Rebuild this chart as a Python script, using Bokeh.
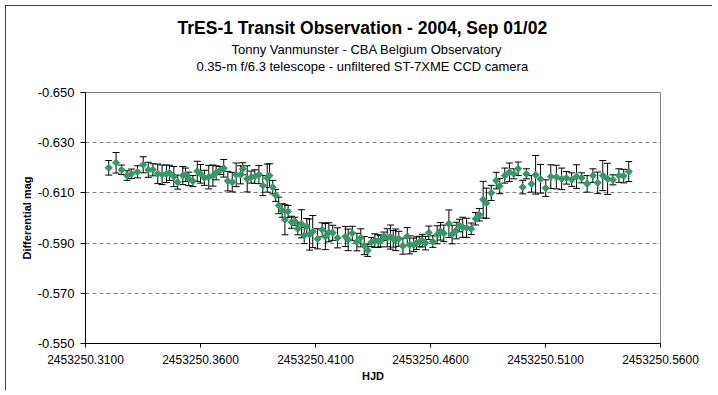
from bokeh.plotting import figure
from bokeh.models import (Range1d, FixedTicker, PrintfTickFormatter, Whisker,
                          TeeHead, ColumnDataSource, Title)
from bokeh.embed import file_html
from bokeh.resources import INLINE
import math

FONT = "Liberation Sans"

title_lines = [
    "TrES-1 Transit Observation - 2004, Sep 01/02",
    "Tonny Vanmunster - CBA Belgium Observatory",
    "0.35-m f/6.3 telescope - unfiltered ST-7XME CCD camera",
]
x_label = "HJD"
y_label = "Differential mag"

HJD_BASE = 2453250.0
x_ticks = [2453250.31, 2453250.36, 2453250.41, 2453250.46, 2453250.51, 2453250.56]
y_ticks = [-0.650, -0.630, -0.610, -0.590, -0.570, -0.550]

# before / ingress / bottom of transit
hjd_frac_a = [0.3201, 0.3233, 0.3257, 0.3281, 0.3300, 0.3326, 0.3351, 0.3373, 0.3393, 0.3414,
              0.3433, 0.3452, 0.3465, 0.3484, 0.3501, 0.3523, 0.3535, 0.3549, 0.3567, 0.3586,
              0.3600, 0.3617, 0.3636, 0.3654, 0.3668, 0.3684, 0.3701, 0.3719, 0.3738, 0.3755,
              0.3774, 0.3784, 0.3803, 0.3820, 0.3836, 0.3854, 0.3871, 0.3890, 0.3900, 0.3914,
              0.3927, 0.3940, 0.3955, 0.3967, 0.3981, 0.3996, 0.4010, 0.4023, 0.4039, 0.4051,
              0.4062, 0.4074, 0.4088, 0.4109, 0.4129, 0.4143, 0.4158, 0.4175, 0.4196, 0.4230,
              0.4242, 0.4260, 0.4280, 0.4297, 0.4312]
mag_a = [-0.6200, -0.6220, -0.6192, -0.6169, -0.6176, -0.6184, -0.6212, -0.6192, -0.6192, -0.6176,
         -0.6172, -0.6176, -0.6180, -0.6165, -0.6143, -0.6169, -0.6172, -0.6156, -0.6147, -0.6186,
         -0.6176, -0.6160, -0.6163, -0.6169, -0.6180, -0.6189, -0.6198, -0.6147, -0.6143, -0.6172,
         -0.6172, -0.6196, -0.6156, -0.6163, -0.6165, -0.6173, -0.6129, -0.6159, -0.6169, -0.6123,
         -0.6090, -0.6050, -0.6030, -0.5993, -0.6026, -0.5983, -0.5987, -0.5957, -0.5977, -0.5930,
         -0.5966, -0.5934, -0.5946, -0.5917, -0.5953, -0.5926, -0.5943, -0.5941, -0.5921, -0.5926,
         -0.5913, -0.5939, -0.5904, -0.5921, -0.5890]
err_a = [0.0029, 0.0041, 0.0019, 0.0019, 0.0019, 0.0024, 0.0032, 0.0030, 0.0024, 0.0039,
         0.0039, 0.0035, 0.0030, 0.0040, 0.0028, 0.0036, 0.0027, 0.0027, 0.0022, 0.0040,
         0.0037, 0.0030, 0.0047, 0.0042, 0.0028, 0.0016, 0.0035, 0.0039, 0.0039, 0.0047,
         0.0036, 0.0024, 0.0052, 0.0024, 0.0027, 0.0036, 0.0040, 0.0056, 0.0047, 0.0027,
         0.0024, 0.0033, 0.0027, 0.0060, 0.0024, 0.0024, 0.0016, 0.0024, 0.0056, 0.0032,
         0.0032, 0.0062, 0.0064, 0.0040, 0.0028, 0.0052, 0.0038, 0.0030, 0.0040, 0.0040,
         0.0043, 0.0028, 0.0035, 0.0036, 0.0036]

# bottom / egress / after transit
hjd_frac_b = [0.4327, 0.4343, 0.4358, 0.4373, 0.4383, 0.4397, 0.4412, 0.4426, 0.4438, 0.4449,
              0.4462, 0.4480, 0.4499, 0.4510, 0.4527, 0.4539, 0.4553, 0.4564, 0.4578, 0.4593,
              0.4610, 0.4629, 0.4643, 0.4658, 0.4680, 0.4694, 0.4712, 0.4726, 0.4740, 0.4757,
              0.4777, 0.4796, 0.4812, 0.4829, 0.4843, 0.4864, 0.4886, 0.4901, 0.4923, 0.4943,
              0.4962, 0.4981, 0.5001, 0.5017, 0.5039, 0.5057, 0.5078, 0.5101, 0.5123, 0.5147,
              0.5170, 0.5191, 0.5214, 0.5235, 0.5257, 0.5281, 0.5306, 0.5327, 0.5349, 0.5370,
              0.5393, 0.5419, 0.5440, 0.5462]
mag_b = [-0.5871, -0.5904, -0.5910, -0.5908, -0.5908, -0.5927, -0.5921, -0.5924, -0.5917, -0.5913,
         -0.5917, -0.5888, -0.5927, -0.5893, -0.5893, -0.5900, -0.5906, -0.5910, -0.5900, -0.5941,
         -0.5906, -0.5933, -0.5947, -0.5939, -0.5977, -0.5934, -0.5950, -0.5970, -0.5963, -0.5961,
         -0.5957, -0.5997, -0.6013, -0.6073, -0.6059, -0.6100, -0.6149, -0.6127, -0.6169, -0.6182,
         -0.6176, -0.6196, -0.6123, -0.6176, -0.6136, -0.6172, -0.6156, -0.6119, -0.6165, -0.6163,
         -0.6156, -0.6160, -0.6153, -0.6165, -0.6160, -0.6136, -0.6169, -0.6140, -0.6169, -0.6156,
         -0.6152, -0.6169, -0.6167, -0.6185]
err_b = [0.0024, 0.0018, 0.0027, 0.0025, 0.0023, 0.0017, 0.0036, 0.0048, 0.0033, 0.0043,
         0.0030, 0.0032, 0.0035, 0.0036, 0.0027, 0.0025, 0.0021, 0.0025, 0.0027, 0.0027,
         0.0023, 0.0036, 0.0035, 0.0033, 0.0055, 0.0037, 0.0033, 0.0025, 0.0040, 0.0038,
         0.0023, 0.0025, 0.0025, 0.0073, 0.0060, 0.0030, 0.0033, 0.0030, 0.0030, 0.0037,
         0.0020, 0.0027, 0.0027, 0.0020, 0.0033, 0.0077, 0.0057, 0.0033, 0.0047, 0.0047,
         0.0043, 0.0025, 0.0027, 0.0047, 0.0020, 0.0033, 0.0027, 0.0043, 0.0060, 0.0062,
         0.0020, 0.0027, 0.0027, 0.0040]

hjd = [HJD_BASE + f for f in hjd_frac_a + hjd_frac_b]
mag = mag_a + mag_b
err = err_a + err_b

src = ColumnDataSource(data=dict(
    x=hjd, y=mag,
    upper=[m + e for m, e in zip(mag, err)],
    lower=[m - e for m, e in zip(mag, err)],
))

p = figure(frame_width=575, frame_height=251,
           min_border_left=80, min_border_right=52, min_border_top=87, min_border_bottom=47,
           x_range=Range1d(x_ticks[0], x_ticks[-1]),
           y_range=Range1d(y_ticks[-1], y_ticks[0]),
           output_backend="svg", toolbar_location=None)
p.styles = {"outline": "1px solid black", "outline-offset": "-1px",
            "position": "relative", "left": "5px", "top": "5px"}
p.background_fill_color = "white"
p.border_fill_color = "white"
p.outline_line_color = "#808080"
p.outline_line_width = 1

# axes
p.xaxis.ticker = FixedTicker(ticks=x_ticks)
p.xaxis.formatter = PrintfTickFormatter(format="%.4f")
p.yaxis.ticker = FixedTicker(ticks=y_ticks)
p.yaxis.formatter = PrintfTickFormatter(format="%.3f")
p.xaxis.axis_label = x_label
p.yaxis.axis_label = y_label
for ax in (p.xaxis, p.yaxis):
    ax.axis_line_color = "black"
    ax.major_tick_line_color = "black"
    ax.minor_tick_line_color = None
    ax.major_tick_in = 0
    ax.major_label_text_font = FONT
    ax.major_label_text_color = "black"
    ax.axis_label_text_font = FONT
    ax.axis_label_text_font_style = "bold"
    ax.axis_label_text_font_size = "11px"
    ax.axis_label_text_color = "black"
p.xaxis.major_tick_out = 4
p.yaxis.major_tick_out = 5
p.xaxis.major_label_text_font_size = "12px"
p.yaxis.major_label_text_font_size = "13px"
p.xaxis.major_label_standoff = 7
p.yaxis.major_label_standoff = 6
p.xaxis.axis_label_standoff = 3
p.yaxis.axis_label_standoff = 2

p.xgrid.visible = False
p.ygrid.ticker = FixedTicker(ticks=y_ticks[1:-1])
p.ygrid.grid_line_color = "#808080"
p.ygrid.grid_line_dash = "4 3"
p.ygrid.grid_line_width = 1

# error bars
w = Whisker(source=src, base="x", upper="upper", lower="lower",
            line_color="black", line_width=1,
            upper_head=TeeHead(size=7, line_color="black", line_width=1),
            lower_head=TeeHead(size=7, line_color="black", line_width=1))
p.add_layout(w)

# points
p.scatter(x="x", y="y", source=src, marker="square", angle=math.pi / 4, size=5,
          fill_color="#339966", line_color="#339966", line_width=1)

# titles, stacked from the plot outward: a blank spacer first, then lines 3, 2, 1
p.add_layout(Title(text=" ", standoff=1, text_font=FONT, text_font_size="13px"), "above")
title_sizes = ["17.5px", "13px", "13px"]
title_styles = ["bold", "normal", "normal"]
title_standoffs = [5, -2, 2]
title_offsets = [92, 146, 111]
for t, fs, st, so, off in reversed(list(zip(title_lines, title_sizes, title_styles,
                                            title_standoffs, title_offsets))):
    p.add_layout(Title(text=t, align="left", offset=off, standoff=so,
                       text_font=FONT, text_font_size=fs,
                       text_font_style=st, text_color="black"), "above")

open("out.html", "w").write(file_html(p, INLINE))
